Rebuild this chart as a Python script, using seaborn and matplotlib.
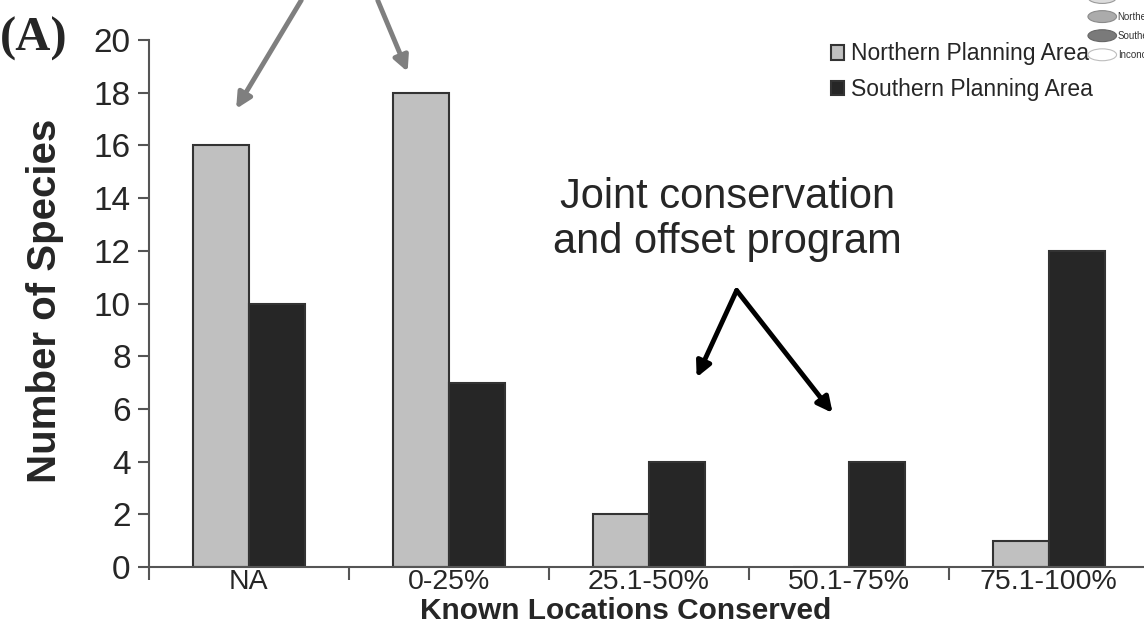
import pandas as pd
import matplotlib.pyplot as plt
import seaborn as sns
from matplotlib.patches import Ellipse

# data
categories = ["NA", "0-25%", "25.1-50%", "50.1-75%", "75.1-100%"]
northern = [16, 18, 2, 0, 1]
southern = [10, 7, 4, 4, 12]
series = ["Northern Planning Area", "Southern Planning Area"]
yticks = list(range(0, 21, 2))

df = pd.DataFrame({
    "location": categories * 2,
    "species": northern + southern,
    "area": [series[0]] * len(categories) + [series[1]] * len(categories),
})

sns.set_style("white")
plt.rcParams['font.family'] = ['Liberation Sans', 'DejaVu Sans']

fig = plt.figure(figsize=(11.44, 6.26), dpi=100)
ax = fig.add_axes([0.130, 0.094, 0.874, 0.842])

palette = {series[0]: "#c0c0c0", series[1]: "#262626"}
sns.barplot(data=df, x="location", y="species", hue="area", order=categories,
            hue_order=series, palette=palette, width=0.56, ax=ax,
            edgecolor="#333333", linewidth=1.5, saturation=1)

ax.set_xlim(-0.5, 4.5)
ax.set_ylim(0, 20)
ax.set_yticks(yticks)
ax.tick_params(axis="y", labelsize=24, length=8, width=1.5, color="#555555",
               direction="out", left=True, pad=5)
ax.set_xticks(range(len(categories)))
ax.set_xticklabels(categories)
ax.tick_params(axis="x", which="major", labelsize=20.5, length=0, pad=1)
ax.set_xticks([i - 0.5 for i in range(len(categories) + 1)], minor=True)
ax.tick_params(axis="x", which="minor", length=9, width=1.5, color="#555555",
               direction="out", bottom=True)

sns.despine(ax=ax)
for s in ["left", "bottom"]:
    ax.spines[s].set_color("#555555")
    ax.spines[s].set_linewidth(1.5)

ax.set_xlabel("Known Locations Conserved", fontsize=21.5, fontweight="bold")
ax.set_ylabel("Number of Species", fontsize=29, fontweight="bold")
ax.xaxis.set_label_coords(0.477, -0.057)
ax.yaxis.set_label_coords(-0.085, 0.505)

leg = ax.legend(loc="upper left", bbox_to_anchor=(0.718, 0.947),
                bbox_transform=fig.transFigure, frameon=False, fontsize=16.5,
                handlelength=0.6, handleheight=0.6, handletextpad=0.3,
                labelspacing=0.55, borderaxespad=0)

# "(A)" panel tag
fig.text(0.0, 0.938, "(A)", fontsize=35, fontweight="bold",
         family=["Liberation Serif", "DejaVu Serif"], va="center", ha="left")

# gray arrows from above the panel
gray_arrow = dict(arrowstyle="-|>,head_length=0.9,head_width=0.45",
                  color="#7f7f7f", lw=3.5)
ax.annotate("", xy=(-0.07, 17.3), xytext=(0.27, 21.6),
            arrowprops=gray_arrow, annotation_clip=False)
ax.annotate("", xy=(0.80, 18.7), xytext=(0.64, 21.6),
            arrowprops=gray_arrow, annotation_clip=False)

# joint conservation note
ax.text(2.395, 13.2, "Joint conservation\nand offset program", fontsize=30,
        ha="center", va="center", linespacing=1.15)
black_arrow = dict(arrowstyle="-|>,head_length=0.9,head_width=0.45",
                   color="black", lw=3.5, shrinkA=0, shrinkB=0)
ax.annotate("", xy=(2.24, 7.2), xytext=(2.44, 10.5), arrowprops=black_arrow)
ax.annotate("", xy=(2.92, 5.85), xytext=(2.44, 10.5), arrowprops=black_arrow)

# cropped map legend in the corner
corner = [("East", "#dcdcdc", "#9a9a9a"), ("Northern", "#ababab", "#8a8a8a"),
          ("Southern", "#7a7a7a", "#666666"), ("Inconclusive", "#ffffff", "#bdbdbd")]
for i, (lab, fc, ec) in enumerate(corner):
    yy = 1.0 + 0.004 - i * 0.0305
    fig.add_artist(Ellipse((0.9635, yy), 0.025, 0.019, transform=fig.transFigure,
                           facecolor=fc, edgecolor=ec, lw=0.8))
    fig.text(0.977, yy, lab, fontsize=7, va="center", ha="left", color="#333333")

plt.savefig("out.png", dpi=100)
